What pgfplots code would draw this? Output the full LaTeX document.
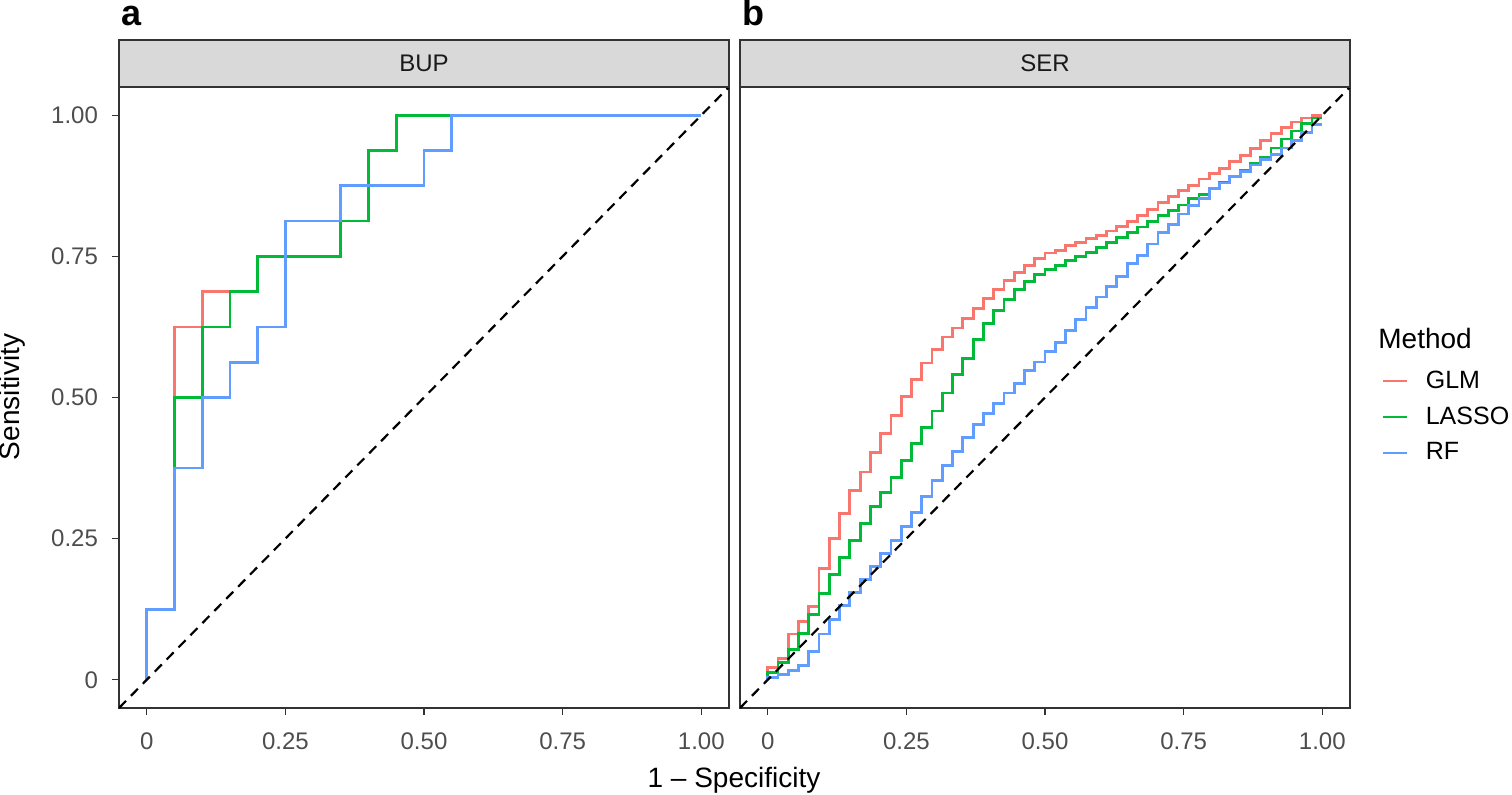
\documentclass[border=0pt]{standalone}
\usepackage{fontspec}
\setmainfont{Liberation Sans}
\usepackage{pgfplots}
\usepackage{pgfplotstable}
\pgfplotsset{compat=1.18}
\definecolor{glm}{HTML}{F8766D}
\definecolor{lasso}{HTML}{00BA38}
\definecolor{rf}{HTML}{619CFF}
\definecolor{stripgray}{HTML}{D9D9D9}
\definecolor{tickgray}{HTML}{4D4D4D}
\definecolor{framegray}{HTML}{333333}

% BUP panel (step points, const plot mark left)
\pgfplotstableread{
x y
0 0
0 0.125
0.05 0.625
0.10 0.6875
0.20 0.75
0.35 0.8125
0.40 0.9375
0.45 1
1 1
}\bupglm
\pgfplotstableread{
x y
0 0
0 0.125
0.05 0.5
0.10 0.625
0.15 0.6875
0.20 0.75
0.35 0.8125
0.40 0.9375
0.45 1
1 1
}\buplasso
\pgfplotstableread{
x y
0 0
0 0.125
0.05 0.375
0.10 0.5
0.15 0.5625
0.20 0.625
0.25 0.8125
0.35 0.875
0.50 0.9375
0.55 1
1 1
}\buprf

% SER panel
\pgfplotstableread{
x glm lasso rf
0 0.010 0.005 0.000
0 0.022 0.013 0.004
0.0185 0.037 0.031 0.009
0.0370 0.081 0.054 0.017
0.0556 0.103 0.082 0.025
0.0741 0.130 0.116 0.050
0.0926 0.197 0.153 0.081
0.1111 0.250 0.186 0.107
0.1296 0.295 0.216 0.131
0.1481 0.335 0.247 0.154
0.1667 0.368 0.277 0.177
0.1852 0.402 0.307 0.200
0.2037 0.436 0.332 0.223
0.2222 0.468 0.359 0.247
0.2407 0.502 0.388 0.272
0.2593 0.532 0.419 0.297
0.2778 0.561 0.447 0.325
0.2963 0.585 0.476 0.353
0.3148 0.607 0.508 0.379
0.3333 0.623 0.541 0.405
0.3519 0.640 0.569 0.429
0.3704 0.657 0.603 0.452
0.3889 0.675 0.631 0.471
0.4074 0.691 0.654 0.490
0.4259 0.707 0.674 0.508
0.4444 0.722 0.691 0.525
0.4630 0.734 0.706 0.548
0.4815 0.746 0.718 0.563
0.5000 0.756 0.727 0.581
0.5185 0.761 0.734 0.598
0.5370 0.769 0.743 0.618
0.5556 0.774 0.750 0.638
0.5741 0.781 0.757 0.660
0.5926 0.787 0.765 0.678
0.6111 0.795 0.774 0.696
0.6296 0.803 0.783 0.715
0.6481 0.812 0.792 0.737
0.6667 0.822 0.802 0.751
0.6852 0.833 0.812 0.772
0.7037 0.846 0.822 0.792
0.7222 0.856 0.831 0.807
0.7407 0.866 0.841 0.825
0.7593 0.876 0.852 0.840
0.7778 0.887 0.860 0.852
0.7963 0.897 0.870 0.870
0.8148 0.906 0.881 0.880
0.8333 0.918 0.892 0.891
0.8519 0.928 0.903 0.900
0.8704 0.941 0.914 0.912
0.8889 0.955 0.925 0.921
0.9074 0.968 0.942 0.931
0.9259 0.978 0.958 0.942
0.9444 0.988 0.972 0.955
0.9630 0.995 0.986 0.969
0.9815 1.000 0.995 0.984
1.0000 1.000 0.995 0.984
}\ser

\pgfplotsset{
  rocax/.style={
    scale only axis, width=305pt, height=310.5pt,
    xmin=-0.05, xmax=1.05, ymin=-0.05, ymax=1.05,
    axis line style={framegray, line width=0.7pt},
    tick align=outside, major tick length=3.5pt,
    tick style={framegray, line width=0.7pt},
    xtick={0,0.25,0.5,0.75,1}, xticklabels={0,0.25,0.50,0.75,1.00},
    xtick pos=left, ytick pos=left,
    xticklabel style={font=\fontsize{12}{14}\selectfont, text=tickgray, yshift=-5.5pt},
    yticklabel style={font=\fontsize{12}{14}\selectfont, text=tickgray, xshift=-3.5pt},
    roc/.style={line width=1.4pt, const plot mark left},
  },
}

\begin{document}
\begin{tikzpicture}
\useasboundingbox (-59.5pt,-43pt) rectangle (696.5pt,354pt);

\begin{axis}[rocax, at={(0pt,0pt)}, anchor=south west,
  ytick={0,0.25,0.5,0.75,1}, yticklabels={0,0.25,0.50,0.75,1.00}]
  \addplot[roc, glm] table[x=x,y=y]{\bupglm};
  \addplot[roc, lasso] table[x=x,y=y]{\buplasso};
  \addplot[roc, rf] table[x=x,y=y]{\buprf};
  \addplot[black, line width=1.1pt, dash pattern=on 5pt off 3.5pt] coordinates {(-0.05,-0.05) (1.05,1.05)};
\end{axis}

\begin{axis}[rocax, at={(310.5pt,0pt)}, anchor=south west, ytick=\empty,
  legend style={draw=none, fill=none, at={(axis description cs:1.042,0.4686)}, anchor=west,
    font=\fontsize{12.5}{15}\selectfont, row sep=6pt,
    nodes={inner sep=0pt, text height=9.5pt, text depth=2.5pt}},
  legend cell align=left,
  legend image code/.code={\draw[#1, line width=1.4pt] (0pt,0pt) -- (12pt,0pt);},
  legend style={/tikz/every even column/.append style={column sep=0pt}},
  legend style={/tikz/every odd column/.append style={column sep=8.5pt}}]
  \addplot[roc, glm] table[x=x,y=glm]{\ser};
  \addlegendentry{GLM}
  \addplot[roc, lasso] table[x=x,y=lasso]{\ser};
  \addlegendentry{LASSO}
  \addplot[roc, rf] table[x=x,y=rf]{\ser};
  \addlegendentry{RF}
  \addplot[forget plot, black, line width=1.1pt, dash pattern=on 5pt off 3.5pt] coordinates {(-0.05,-0.05) (1.05,1.05)};
\end{axis}

% facet strips
\draw[fill=stripgray, draw=framegray, line width=0.7pt] (0pt,310.5pt) rectangle (305pt,334pt);
\draw[fill=stripgray, draw=framegray, line width=0.7pt] (310.5pt,310.5pt) rectangle (615.5pt,334pt);
\node[font=\fontsize{12}{14}\selectfont, text=black!90] at (152.5pt,322.25pt) {BUP};
\node[font=\fontsize{12}{14}\selectfont, text=black!90] at (463pt,322.25pt) {SER};

% panel letters
\node[font=\fontsize{18}{20}\selectfont\bfseries, anchor=base west, inner sep=0pt] at (1pt,341pt) {a};
\node[font=\fontsize{18}{20}\selectfont\bfseries, anchor=base west, inner sep=0pt] at (311.5pt,341pt) {b};

% axis titles
\node[font=\fontsize{14}{16}\selectfont, rotate=90] at (-53.5pt,155.5pt) {Sensitivity};
\node[font=\fontsize{14}{16}\selectfont] at (307.5pt,-36pt) {1 – Specificity};

% legend title
\node[font=\fontsize{14}{16}\selectfont, anchor=west, inner sep=0pt] at (629.5pt,185pt) {Method};
\end{tikzpicture}
\end{document}
